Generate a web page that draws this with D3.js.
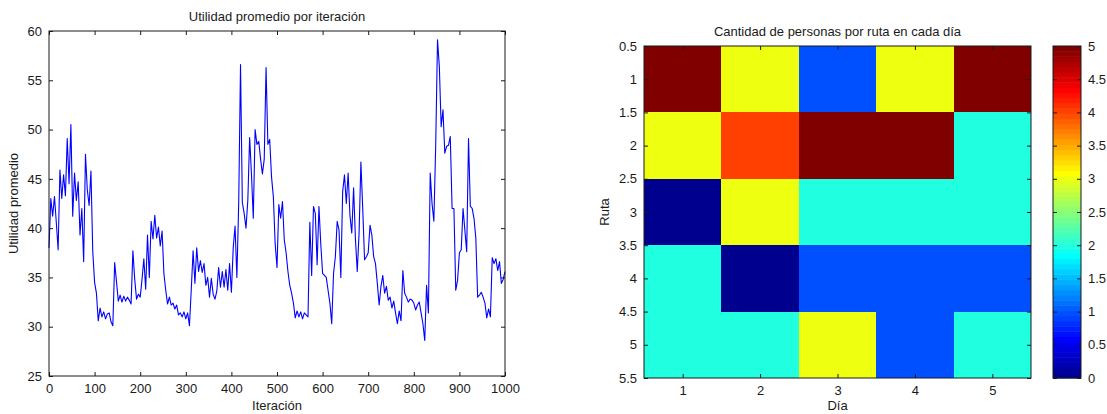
<!DOCTYPE html>
<html>
<head>
<meta charset="utf-8">
<script src="https://cdn.jsdelivr.net/npm/d3@7"></script>
<style>
  html, body { margin: 0; padding: 0; background: #fff; }
  svg { display: block; }
  text { font-family: "Liberation Sans", Arial, Helvetica, sans-serif; fill: #1a1a1a; }
</style>
</head>
<body>
<svg id="fig" width="1107" height="414"></svg>
<script>
// Average utility, sampled every 4 iterations (0..1000)
const pasoIteracion = 4;
const utilidad = [
  38.0, 43.0, 41.2, 43.2, 40.6, 37.8, 45.9, 43.0, 45.4, 43.3,
  49.1, 44.5, 50.5, 41.2, 45.6, 42.8, 44.7, 39.3, 42.0, 36.6,
  47.5, 43.9, 42.3, 45.8, 37.6, 34.5, 33.4, 30.6, 31.9, 31.0,
  31.5, 30.8, 31.3, 31.4, 30.5, 30.1, 36.5, 34.6, 32.6, 33.2,
  32.5, 33.1, 32.6, 33.0, 32.7, 32.3, 37.7, 34.8, 32.8, 33.3,
  33.0, 34.8, 36.9, 33.8, 39.3, 35.0, 40.7, 38.9, 41.3, 39.0,
  40.1, 38.2, 39.7, 35.4, 33.7, 32.3, 33.0, 32.2, 32.4, 31.8,
  32.2, 31.2, 31.4, 31.0, 31.5, 30.8, 31.4, 30.1, 33.8, 37.7,
  34.4, 38.0, 35.6, 36.7, 35.5, 36.4, 34.2, 35.0, 33.0, 34.9,
  33.3, 32.8, 33.6, 36.0, 34.0, 35.6, 34.0, 35.8, 33.7, 36.4,
  33.5, 38.0, 40.2, 35.0, 42.5, 56.6, 42.6, 41.5, 40.0, 42.8,
  49.2, 45.5, 41.0, 50.0, 48.5, 48.8, 47.0, 45.5, 47.0, 56.3,
  48.5, 49.0, 45.2, 43.2, 38.4, 36.0, 42.4, 41.0, 42.7, 38.8,
  37.5, 35.6, 34.2, 33.4, 32.4, 30.9, 31.6, 31.0, 31.5, 30.8,
  31.4, 31.2, 31.0, 40.6, 35.2, 42.2, 41.5, 36.3, 42.2, 38.4,
  35.4, 35.2, 35.0, 33.7, 32.4, 30.3, 35.4, 37.1, 40.7, 39.8,
  35.0, 43.7, 45.4, 42.5, 45.6, 41.3, 39.5, 44.1, 38.9, 35.6,
  39.5, 46.7, 42.0, 36.8, 37.1, 37.5, 40.3, 39.3, 37.1, 36.4,
  34.4, 32.2, 34.1, 35.2, 33.4, 34.1, 32.7, 33.0, 31.9, 32.6,
  31.4, 30.3, 31.6, 30.6, 35.7, 33.4, 33.0, 32.5, 32.8, 32.7,
  32.4, 31.7, 32.2, 32.5, 31.4, 30.3, 28.6, 34.2, 31.4, 45.6,
  42.5, 40.7, 48.3, 59.1, 56.4, 50.3, 52.0, 47.6, 48.3, 48.4,
  49.3, 42.0, 42.0, 33.7, 34.7, 37.5, 37.8, 42.0, 39.8, 37.6,
  49.1, 42.2, 42.0, 41.0, 39.0, 33.0, 33.2, 33.5, 33.0, 32.4,
  30.9, 31.8, 31.0, 37.0, 36.4, 36.9, 35.7, 36.6, 34.4, 34.8,
  35.6
];
const iteraciones = utilidad.map((_, k) => k * pasoIteracion);

const xTicksIter = [0, 100, 200, 300, 400, 500, 600, 700, 800, 900, 1000];
const yTicksUtil = [25, 30, 35, 40, 45, 50, 55, 60];

// People per route (rows) and day (columns)
const dias = [1, 2, 3, 4, 5];
const rutas = [1, 2, 3, 4, 5];
const personas = [
  [5, 3, 1, 3, 5],
  [3, 4, 5, 5, 2],
  [0, 3, 2, 2, 2],
  [2, 0, 1, 1, 1],
  [2, 2, 3, 1, 2]
];
const yTicksRuta = [0.5, 1, 1.5, 2, 2.5, 3, 3.5, 4, 4.5, 5, 5.5];
const ticksBarra = [0, 0.5, 1, 1.5, 2, 2.5, 3, 3.5, 4, 4.5, 5];
const rangoColor = [0, 5];

// MATLAB-style jet colormap with n entries
function jet(n) {
  const m = Math.ceil(n / 4);
  const u = [];
  for (let k = 1; k <= m; k++) u.push(k / m);
  for (let k = 1; k < m; k++) u.push(1);
  for (let k = m; k >= 1; k--) u.push(k / m);
  const g0 = Math.ceil(m / 2) - (n % 4 === 1 ? 1 : 0);
  const cmap = Array.from({length: n}, () => [0, 0, 0]);
  u.forEach((val, k) => {
    const g = g0 + k + 1, r = g + m, b = g - m;
    if (r >= 1 && r <= n) cmap[r - 1][0] = val;
    if (g >= 1 && g <= n) cmap[g - 1][1] = val;
    if (b >= 1 && b <= n) cmap[b - 1][2] = val;
  });
  return cmap.map(c => d3.rgb(c[0] * 255, c[1] * 255, c[2] * 255).formatHex());
}
const paleta = jet(64);
const colorDe = v => {
  const idx = Math.floor((v - rangoColor[0]) / (rangoColor[1] - rangoColor[0]) * paleta.length);
  return paleta[Math.max(0, Math.min(paleta.length - 1, idx))];
};

const svg = d3.select("#fig");
const FS = 13;
const TICK = 4;
const axisColor = "#1a1a1a";

function styleAxis(g) {
  g.selectAll(".domain").remove();
  g.selectAll(".tick line").attr("stroke", axisColor);
  g.selectAll(".tick text").attr("font-size", FS).attr("fill", "#1a1a1a");
}

// ---------- Left: line chart ----------
const L = {left: 49, right: 505, top: 31, bottom: 376};
const x1 = d3.scaleLinear().domain([0, 1000]).range([L.left, L.right]);
const y1 = d3.scaleLinear().domain([25, 60]).range([L.bottom, L.top]);

const g1 = svg.append("g");

g1.append("path")
  .datum(utilidad)
  .attr("fill", "none")
  .attr("stroke", "#0000ff")
  .attr("stroke-width", 1.1)
  .attr("stroke-linejoin", "round")
  .attr("d", d3.line().x((d, k) => x1(iteraciones[k])).y(d => y1(d)));

g1.append("g").attr("transform", `translate(0,${L.bottom})`)
  .call(d3.axisBottom(x1).tickValues(xTicksIter).tickFormat(d3.format("d")).tickSizeInner(-TICK).tickSizeOuter(0).tickPadding(8))
  .call(styleAxis);
g1.append("g").attr("transform", `translate(0,${L.top})`)
  .call(d3.axisTop(x1).tickValues(xTicksIter).tickFormat("").tickSizeInner(-TICK).tickSizeOuter(0))
  .call(styleAxis);
g1.append("g").attr("transform", `translate(${L.left},0)`)
  .call(d3.axisLeft(y1).tickValues(yTicksUtil).tickFormat(d3.format("d")).tickSizeInner(-TICK).tickSizeOuter(0).tickPadding(7))
  .call(styleAxis);
g1.append("g").attr("transform", `translate(${L.right},0)`)
  .call(d3.axisRight(y1).tickValues(yTicksUtil).tickFormat("").tickSizeInner(-TICK).tickSizeOuter(0))
  .call(styleAxis);

g1.append("rect")
  .attr("x", L.left).attr("y", L.top)
  .attr("width", L.right - L.left).attr("height", L.bottom - L.top)
  .attr("fill", "none").attr("stroke", axisColor).attr("stroke-width", 1);

g1.append("text").attr("x", (L.left + L.right) / 2).attr("y", 21)
  .attr("text-anchor", "middle").attr("font-size", FS).text("Utilidad promedio por iteración");
g1.append("text").attr("x", (L.left + L.right) / 2).attr("y", 410)
  .attr("text-anchor", "middle").attr("font-size", FS).text("Iteración");
g1.append("text")
  .attr("transform", `translate(18,${(L.top + L.bottom) / 2}) rotate(-90)`)
  .attr("text-anchor", "middle").attr("font-size", FS).text("Utilidad promedio");

// ---------- Right: heat map ----------
const H = {left: 644, right: 1031, top: 46, bottom: 378};
const x2 = d3.scaleLinear().domain([0.5, 5.5]).range([H.left, H.right]);
const y2 = d3.scaleLinear().domain([0.5, 5.5]).range([H.top, H.bottom]);

const g2 = svg.append("g");
const celdas = [];
personas.forEach((fila, r) => fila.forEach((v, c) => celdas.push({ruta: rutas[r], dia: dias[c], v})));

g2.selectAll("rect.celda").data(celdas).join("rect")
  .attr("class", "celda")
  .attr("x", d => x2(d.dia - 0.5))
  .attr("y", d => y2(d.ruta - 0.5))
  .attr("width", d => x2(d.dia + 0.5) - x2(d.dia - 0.5))
  .attr("height", d => y2(d.ruta + 0.5) - y2(d.ruta - 0.5))
  .attr("fill", d => colorDe(d.v))
  .attr("shape-rendering", "crispEdges");

g2.append("g").attr("transform", `translate(0,${H.bottom})`)
  .call(d3.axisBottom(x2).tickValues(dias).tickFormat(d3.format("d")).tickSizeInner(-TICK).tickSizeOuter(0).tickPadding(8))
  .call(styleAxis);
g2.append("g").attr("transform", `translate(0,${H.top})`)
  .call(d3.axisTop(x2).tickValues(dias).tickFormat("").tickSizeInner(-TICK).tickSizeOuter(0))
  .call(styleAxis);
g2.append("g").attr("transform", `translate(${H.left},0)`)
  .call(d3.axisLeft(y2).tickValues(yTicksRuta).tickFormat(d => String(d)).tickSizeInner(-TICK).tickSizeOuter(0).tickPadding(7))
  .call(styleAxis);
g2.append("g").attr("transform", `translate(${H.right},0)`)
  .call(d3.axisRight(y2).tickValues(yTicksRuta).tickFormat("").tickSizeInner(-TICK).tickSizeOuter(0))
  .call(styleAxis);

g2.append("rect")
  .attr("x", H.left).attr("y", H.top)
  .attr("width", H.right - H.left).attr("height", H.bottom - H.top)
  .attr("fill", "none").attr("stroke", axisColor).attr("stroke-width", 1);

g2.append("text").attr("x", (H.left + H.right) / 2).attr("y", 36)
  .attr("text-anchor", "middle").attr("font-size", FS).text("Cantidad de personas por ruta en cada día");
g2.append("text").attr("x", (H.left + H.right) / 2).attr("y", 410)
  .attr("text-anchor", "middle").attr("font-size", FS).text("Día");
g2.append("text")
  .attr("transform", `translate(609,${(H.top + H.bottom) / 2}) rotate(-90)`)
  .attr("text-anchor", "middle").attr("font-size", FS).text("Ruta");

// ---------- Colour bar ----------
const C = {left: 1053, right: 1081, top: 46, bottom: 378};
const yc = d3.scaleLinear().domain(rangoColor).range([C.bottom, C.top]);
const pasoBarra = (rangoColor[1] - rangoColor[0]) / paleta.length;
const g3 = svg.append("g");
g3.selectAll("rect.banda").data(paleta).join("rect")
  .attr("class", "banda")
  .attr("x", C.left)
  .attr("y", (c, k) => yc(rangoColor[0] + (k + 1) * pasoBarra))
  .attr("width", C.right - C.left)
  .attr("height", (c, k) => yc(rangoColor[0] + k * pasoBarra) - yc(rangoColor[0] + (k + 1) * pasoBarra) + 0.5)
  .attr("fill", c => c);

g3.append("g").attr("transform", `translate(${C.right},0)`)
  .call(d3.axisRight(yc).tickValues(ticksBarra).tickFormat(d => String(d)).tickSizeInner(-TICK).tickSizeOuter(0).tickPadding(7))
  .call(styleAxis);
g3.append("g").attr("transform", `translate(${C.left},0)`)
  .call(d3.axisLeft(yc).tickValues(ticksBarra).tickFormat("").tickSizeInner(-TICK).tickSizeOuter(0))
  .call(styleAxis);
g3.append("rect")
  .attr("x", C.left).attr("y", C.top)
  .attr("width", C.right - C.left).attr("height", C.bottom - C.top)
  .attr("fill", "none").attr("stroke", axisColor).attr("stroke-width", 1);
</script>
</body>
</html>
